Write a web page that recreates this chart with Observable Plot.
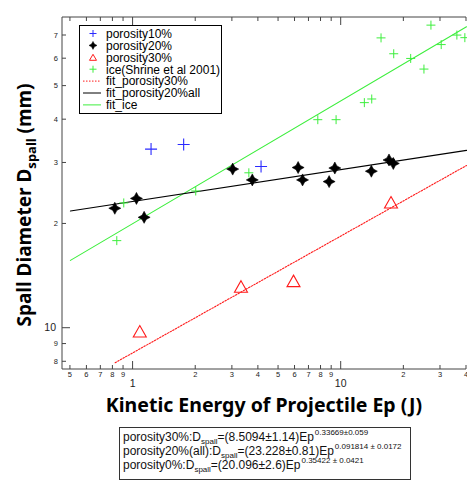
<!DOCTYPE html>
<html><head><meta charset="utf-8">
<script src="https://cdn.jsdelivr.net/npm/d3@7"></script>
<script src="https://cdn.jsdelivr.net/npm/@observablehq/plot@0.6"></script>
<style>
body{margin:0;background:#fff;font-family:"Liberation Sans",Arial,Helvetica,sans-serif;}
#wrap{position:relative;width:467px;height:480px;overflow:hidden;}
#eq{position:absolute;left:119px;top:427px;width:292px;height:53px;border:1px solid #333;box-sizing:border-box;font-size:12px;color:#111;padding:2px 0 0 3px;}
#eq div{height:14px;line-height:14px;white-space:nowrap;}
#eq .sb{font-size:8px;position:relative;top:3px;}
#eq .sp{font-size:8px;position:relative;top:-6px;margin-left:1px;}
</style></head>
<body><div id="wrap"><div id="chart"></div>
<div id="eq">
<div>porosity30%:D<span class="sb">spall</span>=(8.5094±1.14)Ep<span class="sp">0.33669±0.059</span></div>
<div>porosity20%(all):D<span class="sb">spall</span>=(23.228±0.81)Ep<span class="sp">0.091814 ± 0.0172</span></div>
<div>porosity0%:D<span class="sb">spall</span>=(20.096±2.6)Ep<span class="sp">0.35422 ± 0.0421</span></div>
</div></div>
<script>
// ---- data ----
const p10E = [1.22, 1.75, 4.12];
const p10D = [32.9, 33.9, 29.3];
const p20E = [0.817, 1.038, 1.13, 3.01, 3.74, 6.21, 6.52, 8.75, 9.32, 13.96, 16.97, 17.8];
const p20D = [22.2, 23.7, 20.9, 28.8, 26.8, 29.1, 26.8, 26.5, 29.0, 28.4, 30.6, 29.9];
const p30E = [1.077, 3.30, 5.90, 17.35];
const p30D = [9.8, 13.2, 13.7, 23.1];
const iceE = [0.835, 0.902, 2.0, 3.60, 7.72, 9.45, 12.92, 14.02, 15.54, 17.88, 21.57, 24.98, 26.99, 30.24, 35.96, 39.28];
const iceD = [17.9, 23.0, 24.9, 28.1, 40.0, 40.0, 44.8, 45.9, 68.9, 62.0, 60.1, 56.0, 75.0, 65.9, 70.2, 69.0];
const fit30E = [0.82, 40], fit30D = [7.95, 29.5];
const fit20E = [0.5, 40], fit20D = [21.8, 32.6];
const fitIceE = [0.5, 40], fitIceD = [15.7, 74.2];
const xMinorTicks = [0.5, 0.6, 0.7, 0.8, 0.9, 2, 3, 4, 5, 6, 7, 8, 9, 20, 30, 40];
const xMinorLabels = ["5","6","7","8","9","2","3","4","5","6","7","8","9","2","3","4"];
const xMajorTicks = [1, 10];
const xMajorLabels = ["1", "10"];
const yMinorTicks = [8, 9, 20, 30, 40, 50, 60, 70];
const yMinorLabels = ["8","9","2","3","4","5","6","7"];
const yMajorTicks = [10];
const yMajorLabels = ["10"];
const legendNames = ["porosity10%","porosity20%","porosity30%","ice(Shrine et al 2001)","fit_porosity30%","fit_porosity20%all","fit_ice"];

const BLUE = "#2a2aff", GREEN = "#3dee3d", RED = "#ff1a1a";

const zip = (xs, ys) => xs.map((x, i) => ({x, y: ys[i]}));
const plusSym = R => ({draw(c){ c.moveTo(-R,0); c.lineTo(R,0); c.moveTo(0,-R); c.lineTo(0,R); }});
const starSym = (R, i) => ({draw(c){ c.moveTo(0,-R); c.lineTo(i,-i); c.lineTo(R,0); c.lineTo(i,i); c.lineTo(0,R); c.lineTo(-i,i); c.lineTo(-R,0); c.lineTo(-i,-i); c.closePath(); }});
const triSym = (w, h) => ({draw(c){ c.moveTo(0,-h/2); c.lineTo(w/2,h/2); c.lineTo(-w/2,h/2); c.closePath(); }});

const chart = Plot.plot({
  width: 467, height: 420,
  marginLeft: 62, marginRight: 1, marginTop: 17, marginBottom: 51,
  x: {type: "log", domain: [0.458, 40], axis: null},
  y: {type: "log", domain: [7.6, 78.9], axis: null},
  marks: [
    Plot.line(zip(fitIceE, fitIceD), {x: "x", y: "y", stroke: GREEN, strokeWidth: 1.1}),
    Plot.line(zip(fit20E, fit20D), {x: "x", y: "y", stroke: "#000", strokeWidth: 1.2}),
    Plot.line(zip(fit30E, fit30D), {x: "x", y: "y", stroke: RED, strokeWidth: 1.1, strokeDasharray: "1.5,1.5"}),
    Plot.dot(zip(iceE, iceD), {x: "x", y: "y", symbol: plusSym(4.5), stroke: GREEN, strokeWidth: 1, fill: "none"}),
    Plot.dot(zip(p10E, p10D), {x: "x", y: "y", symbol: plusSym(6), stroke: BLUE, strokeWidth: 1.1, fill: "none"}),
    Plot.dot(zip(p30E, p30D), {x: "x", y: "y", symbol: triSym(13, 11.5), stroke: RED, strokeWidth: 1.1, fill: "none"}),
    Plot.dot(zip(p20E, p20D), {x: "x", y: "y", symbol: starSym(6, 2.1), fill: "#000", stroke: "#000", strokeWidth: 0.6})
  ]
});
document.getElementById("chart").appendChild(chart);

const sx = chart.scale("x"), sy = chart.scale("y");
const X = v => sx.apply(v), Y = v => sy.apply(v);
const svg = d3.select(chart);
const L = 62, R = 466, T = 17, B = 369;
const ax = svg.append("g").attr("stroke", "#444").attr("stroke-width", 1).attr("fill", "none");
ax.append("path").attr("d", `M${R},${T}H${L}V${B}H${R}`);
const tk = (x1, y1, x2, y2) => ax.append("line").attr("x1", x1).attr("y1", y1).attr("x2", x2).attr("y2", y2);
xMinorTicks.forEach(v => { tk(X(v), B, X(v), B - 4); tk(X(v), T, X(v), T + 4); });
xMajorTicks.forEach(v => { tk(X(v), B, X(v), B - 8); tk(X(v), T, X(v), T + 8); });
yMinorTicks.forEach(v => { tk(L, Y(v), L + 4, Y(v)); });
yMajorTicks.forEach(v => { tk(L, Y(v), L + 8, Y(v)); });
const tl = svg.append("g").attr("fill", "#222").attr("font-family", "Liberation Sans, Arial, sans-serif");
xMinorTicks.forEach((v, i) => tl.append("text").attr("x", X(v)).attr("y", 377).attr("text-anchor", "middle").attr("font-size", 7.5).text(xMinorLabels[i]));
xMajorTicks.forEach((v, i) => tl.append("text").attr("x", X(v)).attr("y", 387).attr("text-anchor", "middle").attr("font-size", 10.5).text(xMajorLabels[i]));
yMinorTicks.forEach((v, i) => tl.append("text").attr("x", 58).attr("y", Y(v)).attr("dy", "0.35em").attr("text-anchor", "end").attr("font-size", 7.5).text(yMinorLabels[i]));
yMajorTicks.forEach((v, i) => tl.append("text").attr("x", 56).attr("y", Y(v)).attr("dy", "0.35em").attr("text-anchor", "end").attr("font-size", 10.5).text(yMajorLabels[i]));

// axis titles
svg.append("text").attr("x", 264).attr("y", 412).attr("text-anchor", "middle")
  .attr("font-size", 19.5).attr("font-weight", "bold").attr("fill", "#000").text("Kinetic Energy of Projectile Ep (J)");
const yt = svg.append("text").attr("transform", "translate(31,205) rotate(-90)").attr("text-anchor", "middle")
  .attr("font-size", 19).attr("font-weight", "bold").attr("fill", "#000");
yt.append("tspan").text("Spall Diameter D");
yt.append("tspan").attr("font-size", 13).attr("dy", 5).text("spall");
yt.append("tspan").attr("dy", -5).text(" (mm)");

// legend
const lg = svg.append("g").attr("font-family", "Liberation Sans, Arial, sans-serif").attr("text-anchor", "start");
lg.append("rect").attr("x", 79.5).attr("y", 25.5).attr("width", 142).attr("height", 88).attr("fill", "#fff").attr("stroke", "#000");
const rows = legendNames.map((n, i) => 33.5 + i * 11.9);
const sym = s => { const p = d3.path(); s.draw(p); return p.toString(); };
const lx = 93;
lg.append("path").attr("transform", `translate(${lx},${rows[0]})`).attr("d", sym(plusSym(3.5))).attr("stroke", BLUE).attr("fill", "none");
lg.append("path").attr("transform", `translate(${lx},${rows[1]})`).attr("d", sym(starSym(4, 1.4))).attr("fill", "#000").attr("stroke", "#000").attr("stroke-width", 0.5);
lg.append("path").attr("transform", `translate(${lx},${rows[2]})`).attr("d", sym(triSym(7, 6))).attr("stroke", RED).attr("fill", "none");
lg.append("path").attr("transform", `translate(${lx},${rows[3]})`).attr("d", sym(plusSym(3.5))).attr("stroke", GREEN).attr("fill", "none");
lg.append("line").attr("x1", 83).attr("x2", 101).attr("y1", rows[4]).attr("y2", rows[4]).attr("stroke", RED).attr("stroke-dasharray", "1.5,1.5");
lg.append("line").attr("x1", 83).attr("x2", 101).attr("y1", rows[5]).attr("y2", rows[5]).attr("stroke", "#000");
lg.append("line").attr("x1", 83).attr("x2", 101).attr("y1", rows[6]).attr("y2", rows[6]).attr("stroke", GREEN);
legendNames.forEach((n, i) => lg.append("text").attr("x", 106).attr("y", rows[i]).attr("dy", "0.36em").attr("text-anchor", "start").attr("font-size", 12).attr("fill", "#000").text(n));
</script>
</body></html>
